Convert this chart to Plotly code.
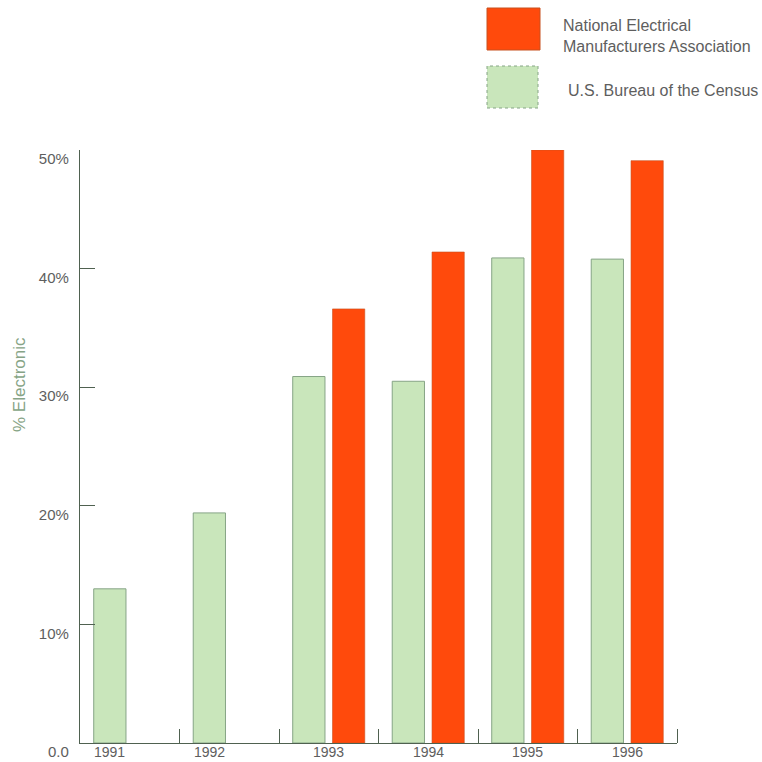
import plotly.graph_objects as go

years = [1991, 1992, 1993, 1994, 1995, 1996]
census = [13.0, 19.4, 30.9, 30.5, 40.9, 40.8]
nema = [None, None, 36.6, 41.4, 50.0, 49.1]
x_labels = ["1991", "1992", "1993", "1994", "1995", "1996"]
y_ticks = [0, 10, 20, 30, 40, 50]
y_labels = ["0.0", "10%", "20%", "30%", "40%", "50%"]
series_names = ["National Electrical<br>Manufacturers Association", "U.S. Bureau of the Census"]

RED = "#FF4A0C"
RED_LINE = "#C8501E"
GREEN = "#C9E6BB"
GREEN_LINE = "#86A486"
AXIS = "#4F6150"
TXT = "#5E5E5E"
FONT = "Liberation Sans, Arial, sans-serif"

W, H = 762, 762
ML, MT = 80, 150
MR = W - 677
MB = H - 743

fig = go.Figure()
fig.add_bar(x=years, y=census, name=series_names[1], marker=dict(color=GREEN, line=dict(color=GREEN_LINE, width=1)))
fig.add_bar(x=years, y=nema, name=series_names[0], marker=dict(color=RED, line=dict(color=RED_LINE, width=0.6)))

# label under the census bar when there is no NEMA value
label_pos = [yr - 0.2 if v is None else yr for yr, v in zip(years, nema)]

fig.update_layout(
    width=W, height=H,
    margin=dict(l=ML, r=MR, t=MT, b=MB, autoexpand=False),
    paper_bgcolor="white", plot_bgcolor="white",
    barmode="group", bargap=0.2, bargroupgap=0.19,
    showlegend=False,
    font=dict(family=FONT, size=15, color=TXT),
)
fig.update_xaxes(
    range=[years[0] - 0.5, years[-1] + 0.5],
    showline=True, linecolor=AXIS, linewidth=1.2,
    showgrid=False, zeroline=False,
    showticklabels=False, ticks="",
    minor=dict(tickmode="array", tickvals=[y + 0.5 for y in years], ticks="inside",
               ticklen=14, tickwidth=1.2, tickcolor=AXIS, showgrid=False),
)
fig.update_yaxes(
    range=[0, 50],
    showline=True, linecolor=AXIS, linewidth=1.2,
    showgrid=False, zeroline=False,
    tickmode="array", tickvals=y_ticks, ticktext=y_labels,
    ticks="inside", ticklen=15, tickwidth=1.2, tickcolor=AXIS,
    ticklabelshift=9, ticklabelstandoff=7,
    tickfont=dict(family=FONT, size=15, color=TXT),
)

def px_x(px):
    return (px - ML) / (W - ML - MR)

def px_y(py):
    return (H - MB - py) / (H - MT - MB)

# year labels under the axis
for pos, lab in zip(label_pos, x_labels):
    fig.add_annotation(xref="x", yref="paper", x=pos, y=px_y(752),
                       xanchor="center", yanchor="middle", showarrow=False,
                       borderpad=0, text=lab, font=dict(family=FONT, size=14, color=TXT))

# legend swatches
fig.add_shape(type="rect", xref="paper", yref="paper",
              x0=px_x(487), x1=px_x(540), y0=px_y(50), y1=px_y(8),
              fillcolor=RED, line=dict(color=RED_LINE, width=1))
fig.add_shape(type="rect", xref="paper", yref="paper",
              x0=px_x(487), x1=px_x(538), y0=px_y(108), y1=px_y(66),
              fillcolor=GREEN, line=dict(color=GREEN_LINE, width=1, dash="dot"))
fig.add_annotation(xref="paper", yref="paper", x=px_x(561), y=px_y(36),
                   xanchor="left", yanchor="middle", align="left", showarrow=False,
                   text=series_names[0], font=dict(family=FONT, size=16, color=TXT))
fig.add_annotation(xref="paper", yref="paper", x=px_x(566), y=px_y(90),
                   xanchor="left", yanchor="middle", align="left", showarrow=False,
                   text=series_names[1], font=dict(family=FONT, size=16, color=TXT))
# y axis title
fig.add_annotation(xref="paper", yref="paper", x=px_x(19), y=px_y(385),
                   xanchor="center", yanchor="middle", textangle=-90, showarrow=False,
                   text="% Electronic", font=dict(family=FONT, size=17, color="#86A486"))

fig.write_html("out.html", config={"displayModeBar": False},
               post_script="document.body.style.margin='0';document.body.style.overflow='hidden';")
